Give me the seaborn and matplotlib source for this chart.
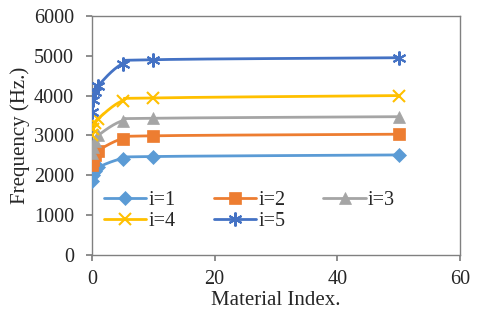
import matplotlib
matplotlib.use("Agg")
import matplotlib.pyplot as plt
import numpy as np
import pandas as pd
import seaborn as sns
from matplotlib.lines import Line2D

material_index = [0, 0.2, 0.5, 1, 5, 10, 50]
freq_i1 = [1850, 2000, 2100, 2200, 2420, 2470, 2510]
freq_i2 = [2250, 2380, 2500, 2620, 2920, 2990, 3030]
freq_i3 = [2550, 2700, 2850, 3000, 3370, 3430, 3470]
freq_i4 = [3000, 3150, 3300, 3420, 3870, 3940, 4000]
freq_i5 = [3600, 3900, 4080, 4250, 4800, 4900, 4950]
labels = ["i=1", "i=2", "i=3", "i=4", "i=5"]
colors = ["#5B9BD5", "#ED7D31", "#A5A5A5", "#FFC000", "#4472C4"]
markers = ["D", "s", "^", "x", (6, 2, 0)]
msizes = [7, 9, 9, 9, 10]


def smooth(x, y, n=40):
    # catmull-rom style curve, like excel's smoothed line
    x = np.asarray(x, float)
    y = np.asarray(y, float)
    px = np.concatenate([[2 * x[0] - x[1]], x, [2 * x[-1] - x[-2]]])
    py = np.concatenate([[2 * y[0] - y[1]], y, [2 * y[-1] - y[-2]]])
    xs, ys = [], []
    t = np.linspace(0, 1, n)
    for k in range(1, len(px) - 2):
        for arr, out in ((px, xs), (py, ys)):
            p0, p1, p2, p3 = arr[k - 1], arr[k], arr[k + 1], arr[k + 2]
            c1 = p1 + (p2 - p0) / 6
            c2 = p2 - (p3 - p1) / 6
            out.append((1 - t) ** 3 * p1 + 3 * (1 - t) ** 2 * t * c1
                       + 3 * (1 - t) * t ** 2 * c2 + t ** 3 * p2)
    return np.concatenate(xs), np.concatenate(ys)


sns.set_theme(style="white")
plt.rcParams["font.family"] = ["Liberation Serif", "DejaVu Serif"]

fig = plt.figure(figsize=(4.8, 3.12), dpi=100)
ax = fig.add_axes([0.1917, 0.183, 0.7663, 0.766])

series = [freq_i1, freq_i2, freq_i3, freq_i4, freq_i5]
handles = []
for vals, lab, c, m, ms in zip(series, labels, colors, markers, msizes):
    sx, sy = smooth(material_index, vals)
    curve = pd.DataFrame({"x": sx, "y": sy})
    sns.lineplot(data=curve, x="x", y="y", ax=ax, color=c, lw=2, sort=False)
    mew = 1.5 if m in ("x", (6, 2, 0)) else 0.5
    ax.plot(material_index, vals, ls="none", marker=m, color=c, ms=ms,
            mew=mew, zorder=3)
    handles.append(Line2D([], [], color=c, lw=2, marker=m, ms=ms, mew=mew))

ax.set_xlim(0, 60)
ax.set_ylim(0, 6000)
ax.set_xticks([0, 20, 40, 60])
ax.set_yticks(range(0, 6001, 1000))
ax.set_xlabel("Material Index.", fontsize=15, labelpad=1)
ax.set_ylabel("Frequency (Hz.)", fontsize=15, labelpad=3)
ax.tick_params(labelsize=14.5, direction="out", length=4, color="#808080",
               left=True, bottom=True)
ax.tick_params(axis="x", pad=7)
ax.tick_params(axis="y", pad=9)
for sp in ax.spines.values():
    sp.set_color("#808080")
    sp.set_linewidth(1)

# matplotlib fills legend columns first; reorder so rows read i=1,i=2,i=3 / i=4,i=5
order = [0, 3, 1, 4, 2]
ax.legend([handles[k] for k in order], [labels[k] for k in order], ncol=3,
          loc="upper left", bbox_to_anchor=(0.0, 0.32), frameon=False,
          fontsize=14.5, handlelength=2.1, columnspacing=1.9,
          handletextpad=0.1, labelspacing=0.1, borderaxespad=0.2)

fig.savefig("out.png", dpi=100)
